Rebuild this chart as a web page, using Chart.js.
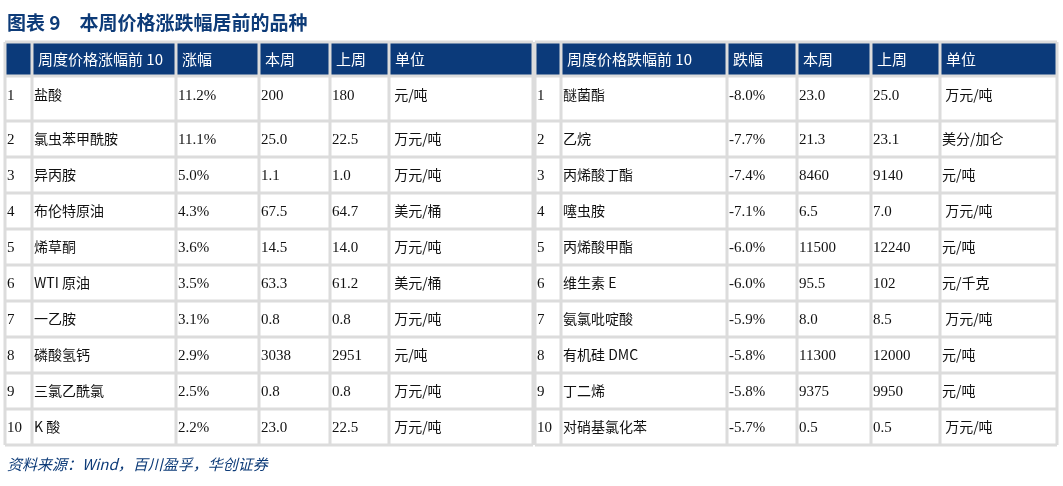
<!DOCTYPE html>
<html><head><meta charset="utf-8">
<script src="https://cdn.jsdelivr.net/npm/chart.js@4"></script>
<style>html,body{margin:0;padding:0;background:#fff}#w{width:1063px;height:486px}</style>
</head><body><div id="w"><canvas id="c"></canvas></div>
<script>
const title = "图表 9　本周价格涨跌幅居前的品种";
const source = "资料来源：Wind，百川盈孚，华创证券";
const headersUp = ["", "周度价格涨幅前 10", "涨幅", "本周", "上周", "单位"];
const headersDown = ["", "周度价格跌幅前 10", "跌幅", "本周", "上周", "单位"];
const ranks = ["1","2","3","4","5","6","7","8","9","10"];
const upNames = ["盐酸","氯虫苯甲酰胺","异丙胺","布伦特原油","烯草酮","WTI 原油","一乙胺","磷酸氢钙","三氯乙酰氯","K 酸"];
const upChange = ["11.2%","11.1%","5.0%","4.3%","3.6%","3.5%","3.1%","2.9%","2.5%","2.2%"];
const upThis = ["200","25.0","1.1","67.5","14.5","63.3","0.8","3038","0.8","23.0"];
const upLast = ["180","22.5","1.0","64.7","14.0","61.2","0.8","2951","0.8","22.5"];
const upUnit = [" 元/吨"," 万元/吨"," 万元/吨"," 美元/桶"," 万元/吨"," 美元/桶"," 万元/吨"," 元/吨"," 万元/吨"," 万元/吨"];
const downNames = ["醚菌酯","乙烷","丙烯酸丁酯","噻虫胺","丙烯酸甲酯","维生素 E","氨氯吡啶酸","有机硅 DMC","丁二烯","对硝基氯化苯"];
const downChange = ["-8.0%","-7.7%","-7.4%","-7.1%","-6.0%","-6.0%","-5.9%","-5.8%","-5.8%","-5.7%"];
const downThis = ["23.0","21.3","8460","6.5","11500","95.5","8.0","11300","9375","0.5"];
const downLast = ["25.0","23.1","9140","7.0","12240","102","8.5","12000","9950","0.5"];
const downUnit = [" 万元/吨","美分/加仑","元/吨"," 万元/吨","元/吨","元/千克"," 万元/吨","元/吨","元/吨"," 万元/吨"];

const colsL = [5,32,176,259,330,389,533];
const colsR = [535,561,727,797,871,940,1057];
const rowsY = [42,76,121,157,193,229,265,301,337,373,409,445];
const FONT = '"Liberation Serif","Noto Sans CJK SC",serif';
const CJK = '"Noto Sans CJK SC","Liberation Serif",sans-serif';

const tablePlugin = {
  id:'table',
  afterDraw(chart){
    const ctx = chart.ctx, X = chart.scales.x, Y = chart.scales.y;
    const px = v => X.getPixelForValue(v), py = v => Y.getPixelForValue(v);
    ctx.save();
    ctx.fillStyle = '#fff'; ctx.fillRect(0,0,chart.width,chart.height);
    ctx.fillStyle = '#0d3b78'; ctx.textBaseline = 'alphabetic';
    ctx.font = 'bold 19px ' + CJK;
    ctx.fillText(title, px(7), py(30));
    function table(cols, heads, names, ch, th, la, un){
      ctx.fillStyle = '#0b3a7a';
      ctx.fillRect(px(cols[0]), py(rowsY[0]), px(cols[6])-px(cols[0]), py(rowsY[1])-py(rowsY[0]));
      ctx.font = '15px ' + CJK; ctx.fillStyle = '#fff';
      heads.forEach((h,i)=>ctx.fillText(h, px(cols[i]+6), py(rowsY[0]+23)));
      const body = [ranks, names, ch, th, la, un];
      for(let r=0;r<10;r++){
        const ty = r===0 ? rowsY[1]+24 : rowsY[r+1]+23;
        body.forEach((col,i)=>{
          const t = col[r];
          ctx.font = (/[\u4e00-\u9fff]/.test(t) ? '14px ' + CJK : '15px ' + FONT);
          ctx.fillStyle = '#111';
          ctx.fillText(t, px(cols[i]+2), py(ty));
        });
      }
      ctx.strokeStyle = '#dcdcdc'; ctx.lineWidth = 3;
      cols.forEach(c=>{ctx.beginPath();ctx.moveTo(px(c),py(rowsY[0]));ctx.lineTo(px(c),py(rowsY[11]));ctx.stroke();});
      rowsY.forEach(y=>{ctx.beginPath();ctx.moveTo(px(cols[0]),py(y));ctx.lineTo(px(cols[6]),py(y));ctx.stroke();});
    }
    table(colsL, headersUp, upNames, upChange, upThis, upLast, upUnit);
    table(colsR, headersDown, downNames, downChange, downThis, downLast, downUnit);
    ctx.fillStyle = '#0d3b78'; ctx.font = 'italic 15px ' + CJK;
    ctx.fillText(source, px(7), py(470));
    ctx.restore();
  }
};

new Chart(document.getElementById('c'), {
  type:'scatter',
  data:{datasets:[{data:[]}]},
  options:{
    responsive:true, maintainAspectRatio:false, animation:false,
    layout:{padding:0},
    plugins:{legend:{display:false},tooltip:{enabled:false}},
    scales:{
      x:{type:'linear',min:0,max:1063,display:false},
      y:{type:'linear',min:0,max:486,reverse:true,display:false}
    }
  },
  plugins:[tablePlugin]
});
</script></body></html>
